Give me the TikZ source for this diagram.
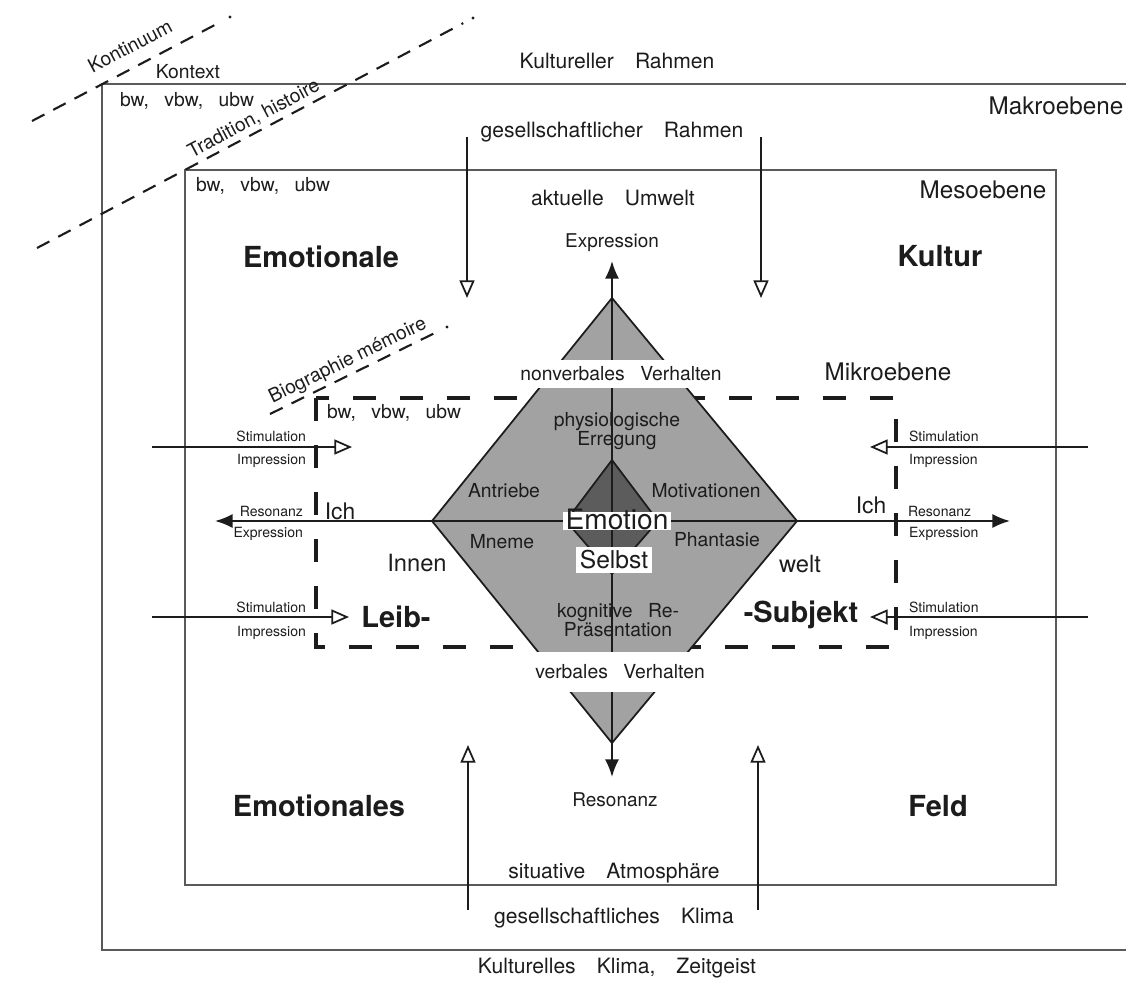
\documentclass[tikz,border=0pt]{standalone}
\usepackage{fontspec}
\setmainfont{TeX Gyre Heros}
\usepackage{xcolor}
\usepackage{tikz}
\usetikzlibrary{arrows.meta, positioning, calc}
\definecolor{ink}{HTML}{1C1C1C}
\definecolor{framegray}{HTML}{5A5A5A}
\definecolor{shellgray}{HTML}{A2A2A2}
\definecolor{coregray}{HTML}{5C5C5C}
\newcommand{\ftiny}{\fontsize{8}{9}\selectfont}
\newcommand{\fsmall}{\fontsize{11}{11}\selectfont}
\newcommand{\fmid}{\fontsize{12}{14}\selectfont}
\newcommand{\flevel}{\fontsize{13.8}{16}\selectfont}
\newcommand{\fbig}{\fontsize{16.5}{19}\selectfont\bfseries}
\newcommand{\wgap}{\hspace{1em}}
\newcommand{\sgap}{\hspace{0.8em}}
\tikzset{
    boxframe/.style={draw=framegray, line width=1pt},
    microframe/.style={draw=ink, line width=2.3pt, dash pattern=on 0.46cm off 0.48cm},
    histline/.style={draw=ink, line width=1.2pt, dash pattern=on 0.28cm off 0.2cm, shorten >=0.22cm},
    mainaxis/.style={draw=ink, line width=1.1pt, -{Latex[length=10pt, width=8pt]}},
    inflow/.style={draw=ink, line width=1pt, -{Triangle[fill=white, length=10pt, width=8.5pt]}},
    txt/.style={text=ink, inner sep=1pt, font=\fmid},
    smalltxt/.style={txt, font=\fsmall},
    tinytxt/.style={txt, font=\ftiny},
    ebene/.style={txt, font=\flevel},
    field/.style={txt, font=\fbig},
    band/.style={txt, fill=white, inner xsep=2pt, inner ysep=0pt, font=\fsmall}
}
\begin{document}
\begin{tikzpicture}[x=0.02cm, y=-0.02cm]
    \useasboundingbox (0,0) rectangle (1126,984);

    % Makro-, Meso- und Mikroebene
    \draw [boxframe] (1126,84) -- (102,84) -- (102,950) -- (1126,950);
    \draw [boxframe] (185,170) rectangle (1056,885);
    \draw [microframe] (316,398) rectangle (896,647);

    % Kontinuum, Tradition, Biographie
    \coordinate (kontA) at (32,121);  \coordinate (kontB) at (230,17);
    \coordinate (tradA) at (37,248);  \coordinate (tradB) at (473,18);
    \coordinate (bioA) at (270,414);  \coordinate (bioB) at (447,327);
    \foreach \a/\b in {kontA/kontB, tradA/tradB, bioA/bioB} {
        \draw [histline] (\a) -- (\b);
        \fill [ink] (\b) circle (1.6);
    }
    \node [smalltxt, rotate=28] (kontinuum) at (130,46) {Kontinuum};
    \node [smalltxt, rotate=28] (tradition) at (254,119) {Tradition, histoire};
    \node [smalltxt, rotate=26] (biographie) at (348,361) {Biographie mémoire};

    \node [txt] (kultrahmen) at (617,61) {Kultureller\wgap Rahmen};
    \node [smalltxt] (kontext) at (188,72) {Kontext};
    \node [smalltxt] (bwmakro) at (187,101) {bw,\sgap vbw,\sgap ubw};
    \node [ebene] (makro) at (1056,106) {Makroebene};
    \node [txt] (gesrahmen) at (612,132) {gesellschaftlicher\wgap Rahmen};
    \node [smalltxt] (bwmeso) at (263,186) {bw,\sgap vbw,\sgap ubw};
    \node [ebene] (meso) at (983,190) {Mesoebene};
    \node [txt] (umwelt) at (613,198) {aktuelle\wgap Umwelt};
    \node [field] (emotionale) at (321,257) {Emotionale};
    \node [field] (kultur) at (940,256) {Kultur};
    \node [ebene] (mikro) at (888,372) {Mikroebene};
    \node [smalltxt] (bwmikro) at (394,413) {bw,\sgap vbw,\sgap ubw};

    % Raute
    \coordinate (apex) at (612,298);
    \coordinate (west) at (432,521);
    \coordinate (east) at (797,521);
    \coordinate (foot) at (612,743);
    \coordinate (core) at (612,521);
    \draw [ink, line width=1pt, fill=shellgray] (apex) -- (east) -- (foot) -- (west) -- cycle;
    \draw [ink, line width=1pt, fill=coregray] (612,460) -- (658,521) -- (612,574) -- (566,521) -- cycle;

    % Achsen
    \coordinate (upT) at (612,261);
    \coordinate (downT) at (612,777);
    \coordinate (leftT) at (215,521);
    \coordinate (rightT) at (1010,521);
    \foreach \t in {upT, downT, leftT, rightT}
        \draw [mainaxis] (core) -- (\t);

    % Einfluesse
    \coordinate (topLs) at (467,137);  \coordinate (topLe) at (467,298);
    \coordinate (topRs) at (761,137);  \coordinate (topRe) at (761,298);
    \coordinate (botLs) at (468,910);  \coordinate (botLe) at (468,745);
    \coordinate (botRs) at (758,910);  \coordinate (botRe) at (758,745);
    \coordinate (stLs) at (152,447);   \coordinate (stLe) at (352,447);
    \coordinate (sbLs) at (152,617);   \coordinate (sbLe) at (349,617);
    \coordinate (stRs) at (1088,447);  \coordinate (stRe) at (870,447);
    \coordinate (sbRs) at (1088,617);  \coordinate (sbRe) at (870,617);
    \foreach \s/\e in {topLs/topLe, topRs/topRe, botLs/botLe, botRs/botRe,
                       stLs/stLe, sbLs/sbLe, stRs/stRe, sbRs/sbRe}
        \draw [inflow] (\s) -- (\e);

    \node [tinytxt, anchor=south east] (stimLa) at (308,444) {Stimulation};
    \node [tinytxt, anchor=north east] (impLa) at (308,452) {Impression};
    \node [tinytxt, anchor=south east] (resL) at (305,519) {Resonanz};
    \node [tinytxt, anchor=north east] (expL) at (305,525) {Expression};
    \node [tinytxt, anchor=south east] (stimLb) at (308,615) {Stimulation};
    \node [tinytxt, anchor=north east] (impLb) at (308,624) {Impression};
    \node [tinytxt, anchor=south west] (stimRa) at (907,444) {Stimulation};
    \node [tinytxt, anchor=north west] (impRa) at (907,452) {Impression};
    \node [tinytxt, anchor=south west] (resR) at (906,519) {Resonanz};
    \node [tinytxt, anchor=north west] (expR) at (907,525) {Expression};
    \node [tinytxt, anchor=south west] (stimRb) at (907,615) {Stimulation};
    \node [tinytxt, anchor=north west] (impRb) at (907,624) {Impression};

    % Beschriftung der Raute
    \node [band, minimum height=0.56cm] (nonverbal) at (621,374) {nonverbales\sgap Verhalten};
    \node [band, minimum height=0.8cm] (verbal) at (620,672) {verbales\sgap Verhalten};
    \node [band, font=\fontsize{16}{18}\selectfont, text height=10pt, text depth=0.5pt, inner xsep=1.5pt] (emotion) at (617,521) {Emotion};
    \node [band, font=\fontsize{14}{16}\selectfont, inner sep=2pt] (selbst) at (614,560) {Selbst};
    \node [smalltxt, align=center] (physio) at (617,431) {physiologische\\Erregung};
    \node [smalltxt] (antriebe) at (504,491) {Antriebe};
    \node [smalltxt] (motivation) at (706,491) {Motivationen};
    \node [smalltxt] (mneme) at (502,542) {Mneme};
    \node [smalltxt] (phantasie) at (717,540) {Phantasie};
    \node [smalltxt, align=center] (kognitiv) at (618,620) {kognitive\sgap Re-\\Präsentation};

    \node [txt, font=\fontsize{10.8}{12}\selectfont] (expr) at (612,243) {Expression};
    \node [txt, font=\fontsize{10.8}{12}\selectfont] (reso) at (615,800) {Resonanz};
    \node [txt, font=\fontsize{13}{15}\selectfont] (ichL) at (340,511) {Ich};
    \node [txt, font=\fontsize{13}{15}\selectfont] (ichR) at (871,505) {Ich};
    \node [txt, font=\fontsize{13.5}{15}\selectfont] (innen) at (417,563) {Innen};
    \node [txt, font=\fontsize{13.5}{15}\selectfont] (welt) at (800,564) {welt};
    \node [field] (leib) at (396,617) {Leib-};
    \node [field] (subjekt) at (801,615) {-Subjekt};

    \node [field] (emotionales) at (319,806) {Emotionales};
    \node [field] (feld) at (938,806) {Feld};
    \node [txt] (situativ) at (614,873) {situative\wgap Atmosphäre};
    \node [txt] (gesklima) at (614,918) {gesellschaftliches\wgap Klima};
    \node [txt] (kultklima) at (617,968) {Kulturelles\wgap Klima,\wgap Zeitgeist};
\end{tikzpicture}
\end{document}
